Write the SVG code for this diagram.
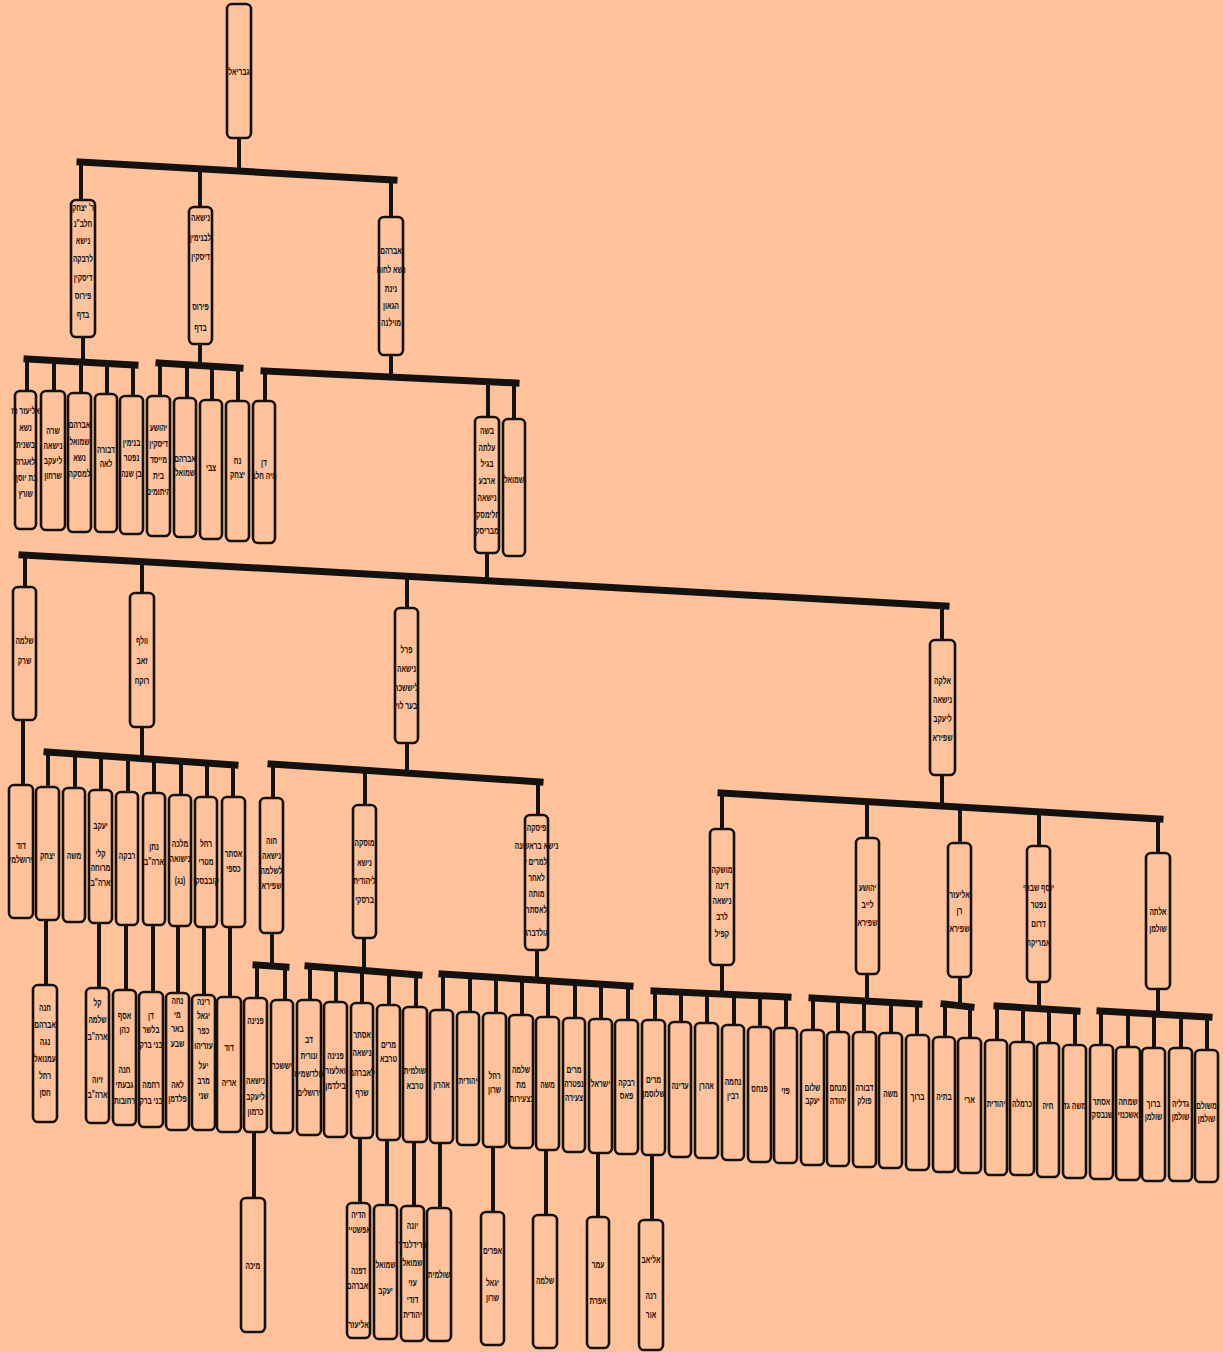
<svg xmlns="http://www.w3.org/2000/svg" width="1223" height="1352" viewBox="0 0 1223 1352">
<style>
.box{fill:#FFC29A;stroke:#141210;stroke-width:2.6}
.bar{stroke:#141210;stroke-width:7;stroke-linecap:square;fill:none}
.stem{stroke:#141210;stroke-width:4;fill:none}
text{font-family:"Liberation Sans","DejaVu Sans",sans-serif;font-size:10px;font-weight:bold;fill:#141210;text-anchor:middle}
</style>
<rect x="0" y="0" width="1223" height="1352" fill="#FFC29A"/>
<g id="connectors">
<path class="stem" d="M239 138V171M81 163V200M200 169V207M391 179V217"/>
<path class="bar" d="M80 162L394 180"/>
<path class="stem" d="M83 337V361M27 360V391M54 361V391M81 362V393M107 363V394M133 364V396"/>
<path class="bar" d="M27 359L135 365"/>
<path class="stem" d="M200 344V366M160 364V396M187 365V398M212 366V400M238 367V401"/>
<path class="bar" d="M159 363L240 368"/>
<path class="stem" d="M391 355V377M265 372V401M488 382V417M514 383V419"/>
<path class="bar" d="M264 371L516 383"/>
<path class="stem" d="M487 553V581M25 556V587M142 562V593M407 576V608M942 606V640"/>
<path class="bar" d="M22 555L946 606"/>
<path class="stem" d="M23 720V785"/>
<path class="stem" d="M142 727V758M48 753V787M75 755V788M101 757V790M128 759V792M154 760V793M181 762V795M207 764V797M233 766V797"/>
<path class="bar" d="M47 752L235 765"/>
<path class="stem" d="M407 743V773M273 765V798M365 771V805M538 782V815"/>
<path class="bar" d="M271 764L540 782"/>
<path class="stem" d="M942 775V806M722 794V829M867 802V838M960 807V843M1039 812V846M1158 819V853"/>
<path class="bar" d="M721 793L1160 819"/>
<path class="stem" d="M46 920V985M99 923V988M126 925V990M153 925V992M178 926V993M204 927V995M230 927V997"/>
<path class="stem" d="M272 933V966M257 966V998M285 966V1000"/>
<path class="bar" d="M256 965L286 967"/>
<path class="stem" d="M364 938V970M310 967V1000M336 969V1002M362 971V1003M389 973V1005M416 975V1007"/>
<path class="bar" d="M308 966L419 975"/>
<path class="stem" d="M537 950V981M443 975V1010M470 976V1012M496 978V1013M522 980V1015M548 981V1017M575 983V1018M601 985V1019M628 986V1020"/>
<path class="bar" d="M442 974L630 986"/>
<path class="stem" d="M722 965V995M655 992V1020M681 993V1022M707 994V1023M734 995V1025M760 996V1027M786 997V1028"/>
<path class="bar" d="M654 991L788 997"/>
<path class="stem" d="M867 974V1001M813 999V1030M838 1000V1032M864 1001V1032M891 1003V1033M917 1004V1035"/>
<path class="bar" d="M812 998L919 1004"/>
<path class="stem" d="M960 977V1006M945 1005V1037M970 1007V1038"/>
<path class="bar" d="M944 1004L971 1007"/>
<path class="stem" d="M1039 982V1009M997 1007V1040M1023 1008V1042M1049 1010V1043M1075 1011V1045"/>
<path class="bar" d="M997 1006L1077 1011"/>
<path class="stem" d="M1158 989V1014M1101 1012V1045M1128 1013V1047M1154 1015V1048M1181 1016V1048M1207 1017V1050"/>
<path class="bar" d="M1100 1011L1209 1017"/>
<path class="stem" d="M254 1132V1198M360 1138V1203M387 1140V1205M414 1142V1206M440 1143V1208M493 1147V1212M546 1150V1215M598 1153V1217M652 1155V1220"/>
</g>
<g id="n-root"><rect class="box" x="227" y="4" width="24" height="134" rx="5"/><text transform="translate(239 0) scale(0.66 1)"><tspan x="0" y="75">גבריאל</tspan></text></g>
<g id="n-a"><rect class="box" x="71" y="200" width="24" height="137" rx="5"/><text transform="translate(83 0) scale(0.66 1)"><tspan x="0" y="211">ר' יצחק</tspan><tspan x="0" y="227">חלב"נ</tspan><tspan x="0" y="244">נישא</tspan><tspan x="0" y="262">לרבקה</tspan><tspan x="0" y="281">דיסקין</tspan><tspan x="0" y="299">פירוס</tspan><tspan x="0" y="318">בדף</tspan></text></g>
<g id="n-b"><rect class="box" x="189" y="207" width="23" height="137" rx="5"/><text transform="translate(200.5 0) scale(0.66 1)"><tspan x="0" y="221">נישאה</tspan><tspan x="0" y="241">לבנימין</tspan><tspan x="0" y="260">דיסקין</tspan><tspan x="0" y="310">פירוס</tspan><tspan x="0" y="331">בדף</tspan></text></g>
<g id="n-c"><rect class="box" x="379" y="217" width="24" height="138" rx="5"/><text transform="translate(391 0) scale(0.66 1)"><tspan x="0" y="254">אברהם</tspan><tspan x="0" y="273">נשא לחוה</tspan><tspan x="0" y="292">נינת</tspan><tspan x="0" y="309">הגאון</tspan><tspan x="0" y="326">מוילנה</tspan></text></g>
<g id="n-a1"><rect class="box" x="15" y="391" width="21" height="138" rx="5"/><text transform="translate(25.5 0) scale(0.66 1)"><tspan x="0" y="414">אליעזר רז</tspan><tspan x="0" y="431">נשא</tspan><tspan x="0" y="448">בשנית</tspan><tspan x="0" y="465">לאגרה</tspan><tspan x="0" y="481">בת יוסף</tspan><tspan x="0" y="497">שורץ</tspan></text></g>
<g id="n-a2"><rect class="box" x="41" y="391" width="24" height="139" rx="5"/><text transform="translate(53 0) scale(0.66 1)"><tspan x="0" y="434">שרה</tspan><tspan x="0" y="449">נישאה</tspan><tspan x="0" y="464">ליעקב</tspan><tspan x="0" y="479">שרחון</tspan></text></g>
<g id="n-a3"><rect class="box" x="68" y="393" width="23" height="139" rx="5"/><text transform="translate(79.5 0) scale(0.66 1)"><tspan x="0" y="428">אברהם</tspan><tspan x="0" y="445">שמואל</tspan><tspan x="0" y="461">נשא</tspan><tspan x="0" y="477">למסקה</tspan></text></g>
<g id="n-a4"><rect class="box" x="95" y="394" width="22" height="138" rx="5"/><text transform="translate(106 0) scale(0.66 1)"><tspan x="0" y="453">דבורה</tspan><tspan x="0" y="467">לאה</tspan></text></g>
<g id="n-a5"><rect class="box" x="120" y="396" width="23" height="138" rx="5"/><text transform="translate(131.5 0) scale(0.66 1)"><tspan x="0" y="446">בנימין</tspan><tspan x="0" y="461">נפטר</tspan><tspan x="0" y="477">בן שנה</tspan></text></g>
<g id="n-b1"><rect class="box" x="147" y="396" width="23" height="140" rx="5"/><text transform="translate(158.5 0) scale(0.66 1)"><tspan x="0" y="431">יהושע</tspan><tspan x="0" y="447">דיסקין</tspan><tspan x="0" y="463">מייסד</tspan><tspan x="0" y="479">בית</tspan><tspan x="0" y="495">היתומים</tspan></text></g>
<g id="n-b2"><rect class="box" x="174" y="398" width="22" height="139" rx="5"/><text transform="translate(185 0) scale(0.66 1)"><tspan x="0" y="462">אברהם</tspan><tspan x="0" y="476">שמואל</tspan></text></g>
<g id="n-b3"><rect class="box" x="200" y="400" width="22" height="139" rx="5"/><text transform="translate(211 0) scale(0.66 1)"><tspan x="0" y="471">צבי</tspan></text></g>
<g id="n-b4"><rect class="box" x="226" y="401" width="23" height="140" rx="5"/><text transform="translate(237.5 0) scale(0.66 1)"><tspan x="0" y="464">נח</tspan><tspan x="0" y="478">יצחק</tspan></text></g>
<g id="n-c1"><rect class="box" x="253" y="401" width="22" height="142" rx="5"/><text transform="translate(264 0) scale(0.66 1)"><tspan x="0" y="466">דן</tspan><tspan x="0" y="479">חיה חלב</tspan></text></g>
<g id="n-c2"><rect class="box" x="475" y="417" width="24" height="136" rx="5"/><text transform="translate(487 0) scale(0.66 1)"><tspan x="0" y="434">בשה</tspan><tspan x="0" y="451">עלתה</tspan><tspan x="0" y="467">בגיל</tspan><tspan x="0" y="484">ארבע</tspan><tspan x="0" y="501">נישאה</tspan><tspan x="0" y="518">חלימסקי</tspan><tspan x="0" y="534">מבריסק</tspan></text></g>
<g id="n-c3"><rect class="box" x="503" y="419" width="22" height="137" rx="5"/><text transform="translate(514 0) scale(0.66 1)"><tspan x="0" y="483">שמואל</tspan></text></g>
<g id="n-s"><rect class="box" x="13" y="587" width="23" height="133" rx="5"/><text transform="translate(24.5 0) scale(0.66 1)"><tspan x="0" y="644">שלמה</tspan><tspan x="0" y="664">שרק</tspan></text></g>
<g id="n-w"><rect class="box" x="130" y="593" width="24" height="134" rx="5"/><text transform="translate(142 0) scale(0.66 1)"><tspan x="0" y="644">וולף</tspan><tspan x="0" y="664">זאב</tspan><tspan x="0" y="684">רוקח</tspan></text></g>
<g id="n-p"><rect class="box" x="395" y="608" width="23" height="135" rx="5"/><text transform="translate(406.5 0) scale(0.66 1)"><tspan x="0" y="653">פרל</tspan><tspan x="0" y="672">נישאה</tspan><tspan x="0" y="691">ליששכר</tspan><tspan x="0" y="709">בער לוי</tspan></text></g>
<g id="n-e"><rect class="box" x="930" y="640" width="25" height="135" rx="5"/><text transform="translate(942.5 0) scale(0.66 1)"><tspan x="0" y="684">אלקה</tspan><tspan x="0" y="703">נישאה</tspan><tspan x="0" y="722">ליעקב</tspan><tspan x="0" y="741">שפירא</tspan></text></g>
<g id="n-d"><rect class="box" x="9" y="785" width="24" height="133" rx="5"/><text transform="translate(21 0) scale(0.66 1)"><tspan x="0" y="849">דוד</tspan><tspan x="0" y="863">ירושלמי</tspan></text></g>
<g id="n-w1"><rect class="box" x="36" y="787" width="23" height="133" rx="5"/><text transform="translate(47.5 0) scale(0.66 1)"><tspan x="0" y="859">יצחק</tspan></text></g>
<g id="n-w2"><rect class="box" x="63" y="788" width="22" height="134" rx="5"/><text transform="translate(74 0) scale(0.66 1)"><tspan x="0" y="859">משה</tspan></text></g>
<g id="n-w3"><rect class="box" x="89" y="790" width="23" height="133" rx="5"/><text transform="translate(100.5 0) scale(0.66 1)"><tspan x="0" y="829">יעקב</tspan><tspan x="0" y="857">קלי</tspan><tspan x="0" y="871">מרוחה</tspan><tspan x="0" y="886">ארה"ב</tspan></text></g>
<g id="n-w4"><rect class="box" x="116" y="792" width="22" height="133" rx="5"/><text transform="translate(127 0) scale(0.66 1)"><tspan x="0" y="859">רבקה</tspan></text></g>
<g id="n-w5"><rect class="box" x="143" y="793" width="22" height="132" rx="5"/><text transform="translate(154 0) scale(0.66 1)"><tspan x="0" y="850">נתן</tspan><tspan x="0" y="865">ארה"ב</tspan></text></g>
<g id="n-w6"><rect class="box" x="169" y="795" width="22" height="131" rx="5"/><text transform="translate(180 0) scale(0.66 1)"><tspan x="0" y="847">מלכה</tspan><tspan x="0" y="862">נישואה</tspan><tspan x="0" y="884">(נג)</tspan></text></g>
<g id="n-w7"><rect class="box" x="195" y="797" width="22" height="130" rx="5"/><text transform="translate(206 0) scale(0.66 1)"><tspan x="0" y="847">רחל</tspan><tspan x="0" y="865">מטרי</tspan><tspan x="0" y="884">קובבסקי</tspan></text></g>
<g id="n-w8"><rect class="box" x="222" y="797" width="23" height="130" rx="5"/><text transform="translate(233.5 0) scale(0.66 1)"><tspan x="0" y="857">אסתר</tspan><tspan x="0" y="872">כספי</tspan></text></g>
<g id="n-p1"><rect class="box" x="260" y="798" width="23" height="135" rx="5"/><text transform="translate(271.5 0) scale(0.66 1)"><tspan x="0" y="844">חוה</tspan><tspan x="0" y="859">נישאה</tspan><tspan x="0" y="874">לשלמה</tspan><tspan x="0" y="889">שפירא</tspan></text></g>
<g id="n-p2"><rect class="box" x="353" y="805" width="23" height="133" rx="5"/><text transform="translate(364.5 0) scale(0.66 1)"><tspan x="0" y="846">מוסקה</tspan><tspan x="0" y="866">נישא</tspan><tspan x="0" y="884">ליהודית</tspan><tspan x="0" y="903">ברסקי</tspan></text></g>
<g id="n-p3"><rect class="box" x="525" y="815" width="23" height="135" rx="5"/><text transform="translate(536.5 0) scale(0.66 1)"><tspan x="0" y="831">פיסקה</tspan><tspan x="0" y="849">נישא בראשונה</tspan><tspan x="0" y="865">למרים ז'</tspan><tspan x="0" y="881">לאחר</tspan><tspan x="0" y="897">מותה</tspan><tspan x="0" y="913">לאסתר</tspan><tspan x="0" y="936">גולדברג</tspan></text></g>
<g id="n-e1"><rect class="box" x="710" y="829" width="24" height="136" rx="5"/><text transform="translate(722 0) scale(0.66 1)"><tspan x="0" y="873">מושקה</tspan><tspan x="0" y="889">דינה</tspan><tspan x="0" y="904">נישאה</tspan><tspan x="0" y="920">לרב</tspan><tspan x="0" y="937">קפיל</tspan></text></g>
<g id="n-e2"><rect class="box" x="856" y="838" width="23" height="136" rx="5"/><text transform="translate(867.5 0) scale(0.66 1)"><tspan x="0" y="891">יהושע</tspan><tspan x="0" y="908">לייב</tspan><tspan x="0" y="926">שפירא</tspan></text></g>
<g id="n-e3"><rect class="box" x="948" y="843" width="23" height="134" rx="5"/><text transform="translate(959.5 0) scale(0.66 1)"><tspan x="0" y="898">אליעזר</tspan><tspan x="0" y="914">רן</tspan><tspan x="0" y="932">שפירא</tspan></text></g>
<g id="n-e4"><rect class="box" x="1027" y="846" width="23" height="136" rx="5"/><text transform="translate(1038.5 0) scale(0.66 1)"><tspan x="0" y="891">יוסף שבתי</tspan><tspan x="0" y="908">נפטר</tspan><tspan x="0" y="927">דרום</tspan><tspan x="0" y="946">אמריקה</tspan></text></g>
<g id="n-e5"><rect class="box" x="1146" y="853" width="24" height="136" rx="5"/><text transform="translate(1158 0) scale(0.66 1)"><tspan x="0" y="915">אלתה</tspan><tspan x="0" y="932">שולמן</tspan></text></g>
<g id="n-g1"><rect class="box" x="33" y="985" width="24" height="137" rx="5"/><text transform="translate(45 0) scale(0.66 1)"><tspan x="0" y="1011">חנה</tspan><tspan x="0" y="1028">אברהם</tspan><tspan x="0" y="1045">נגה</tspan><tspan x="0" y="1062">עמנואל</tspan><tspan x="0" y="1079">רחל</tspan><tspan x="0" y="1096">חסן</tspan></text></g>
<g id="n-g3"><rect class="box" x="86" y="988" width="23" height="135" rx="5"/><text transform="translate(97.5 0) scale(0.66 1)"><tspan x="0" y="1006">קל</tspan><tspan x="0" y="1023">שלמה</tspan><tspan x="0" y="1040">ארה"ב</tspan><tspan x="0" y="1083">זיוה</tspan><tspan x="0" y="1098">ארה"ב</tspan></text></g>
<g id="n-g4"><rect class="box" x="113" y="990" width="23" height="135" rx="5"/><text transform="translate(124.5 0) scale(0.66 1)"><tspan x="0" y="1019">אסף</tspan><tspan x="0" y="1033">כהן</tspan><tspan x="0" y="1073">חנה</tspan><tspan x="0" y="1088">גבעתי</tspan><tspan x="0" y="1104">רחובות</tspan></text></g>
<g id="n-g5"><rect class="box" x="139" y="992" width="24" height="135" rx="5"/><text transform="translate(151 0) scale(0.66 1)"><tspan x="0" y="1019">דן</tspan><tspan x="0" y="1033">בלשר</tspan><tspan x="0" y="1048">בני ברק</tspan><tspan x="0" y="1088">רחמה</tspan><tspan x="0" y="1104">בני ברק</tspan></text></g>
<g id="n-g6"><rect class="box" x="166" y="993" width="23" height="137" rx="5"/><text transform="translate(177.5 0) scale(0.66 1)"><tspan x="0" y="1004">נחה</tspan><tspan x="0" y="1018">מי</tspan><tspan x="0" y="1032">באר</tspan><tspan x="0" y="1047">שבע</tspan><tspan x="0" y="1088">לאה</tspan><tspan x="0" y="1102">פלדמן</tspan></text></g>
<g id="n-g7"><rect class="box" x="192" y="995" width="23" height="135" rx="5"/><text transform="translate(203.5 0) scale(0.66 1)"><tspan x="0" y="1005">רינה</tspan><tspan x="0" y="1019">יגאל</tspan><tspan x="0" y="1034">כפר</tspan><tspan x="0" y="1049">עזריהו</tspan><tspan x="0" y="1069">יעל</tspan><tspan x="0" y="1084">מרב</tspan><tspan x="0" y="1099">שני</tspan></text></g>
<g id="n-g8"><rect class="box" x="217" y="997" width="24" height="135" rx="5"/><text transform="translate(229 0) scale(0.66 1)"><tspan x="0" y="1051">דוד</tspan><tspan x="0" y="1086">אריה</tspan></text></g>
<g id="n-h1"><rect class="box" x="244" y="998" width="23" height="134" rx="5"/><text transform="translate(255.5 0) scale(0.66 1)"><tspan x="0" y="1024">פנינה</tspan><tspan x="0" y="1084">נישאה</tspan><tspan x="0" y="1100">ליעקב</tspan><tspan x="0" y="1115">כרמון</tspan></text></g>
<g id="n-h2"><rect class="box" x="271" y="1000" width="22" height="133" rx="5"/><text transform="translate(282 0) scale(0.66 1)"><tspan x="0" y="1069">יששכר</tspan></text></g>
<g id="n-m1"><rect class="box" x="297" y="1000" width="24" height="135" rx="5"/><text transform="translate(309 0) scale(0.66 1)"><tspan x="0" y="1043">דב</tspan><tspan x="0" y="1059">ונורית</tspan><tspan x="0" y="1077">גולדשמיט</tspan><tspan x="0" y="1096">ירושלים</tspan></text></g>
<g id="n-m2"><rect class="box" x="324" y="1002" width="23" height="135" rx="5"/><text transform="translate(335.5 0) scale(0.66 1)"><tspan x="0" y="1059">פנינה</tspan><tspan x="0" y="1074">ואלעזר</tspan><tspan x="0" y="1089">בילדמן</tspan></text></g>
<g id="n-m3"><rect class="box" x="351" y="1003" width="22" height="135" rx="5"/><text transform="translate(362 0) scale(0.66 1)"><tspan x="0" y="1038">אסתר</tspan><tspan x="0" y="1056">נישאה</tspan><tspan x="0" y="1076">לאברהם</tspan><tspan x="0" y="1096">שרף</tspan></text></g>
<g id="n-m4"><rect class="box" x="377" y="1005" width="23" height="135" rx="5"/><text transform="translate(388.5 0) scale(0.66 1)"><tspan x="0" y="1048">מרים</tspan><tspan x="0" y="1062">טרבא</tspan></text></g>
<g id="n-m5"><rect class="box" x="403" y="1007" width="24" height="135" rx="5"/><text transform="translate(415 0) scale(0.66 1)"><tspan x="0" y="1074">שולמית</tspan><tspan x="0" y="1089">טרבא</tspan></text></g>
<g id="n-f1"><rect class="box" x="430" y="1010" width="23" height="133" rx="5"/><text transform="translate(441.5 0) scale(0.66 1)"><tspan x="0" y="1088">אהרון</tspan></text></g>
<g id="n-f2"><rect class="box" x="457" y="1012" width="22" height="133" rx="5"/><text transform="translate(468 0) scale(0.66 1)"><tspan x="0" y="1084">יהודית</tspan></text></g>
<g id="n-f3"><rect class="box" x="483" y="1013" width="23" height="134" rx="5"/><text transform="translate(494.5 0) scale(0.66 1)"><tspan x="0" y="1079">רחל</tspan><tspan x="0" y="1093">שרון</tspan></text></g>
<g id="n-f4"><rect class="box" x="509" y="1015" width="24" height="133" rx="5"/><text transform="translate(521 0) scale(0.66 1)"><tspan x="0" y="1073">שלמה</tspan><tspan x="0" y="1088">מת</tspan><tspan x="0" y="1102">בצעירותו</tspan></text></g>
<g id="n-f5"><rect class="box" x="536" y="1017" width="23" height="133" rx="5"/><text transform="translate(547.5 0) scale(0.66 1)"><tspan x="0" y="1088">משה</tspan></text></g>
<g id="n-f6"><rect class="box" x="563" y="1018" width="22" height="134" rx="5"/><text transform="translate(574 0) scale(0.66 1)"><tspan x="0" y="1073">מרים</tspan><tspan x="0" y="1087">נפטרה</tspan><tspan x="0" y="1101">צעירה</tspan></text></g>
<g id="n-f7"><rect class="box" x="589" y="1019" width="23" height="134" rx="5"/><text transform="translate(600.5 0) scale(0.66 1)"><tspan x="0" y="1087">ישראל</tspan></text></g>
<g id="n-f8"><rect class="box" x="615" y="1020" width="23" height="134" rx="5"/><text transform="translate(626.5 0) scale(0.66 1)"><tspan x="0" y="1086">רבקה</tspan><tspan x="0" y="1099">פאס</tspan></text></g>
<g id="n-q1"><rect class="box" x="642" y="1020" width="23" height="135" rx="5"/><text transform="translate(653.5 0) scale(0.66 1)"><tspan x="0" y="1083">מרים</tspan><tspan x="0" y="1097">שלוסמן</tspan></text></g>
<g id="n-q2"><rect class="box" x="669" y="1022" width="22" height="135" rx="5"/><text transform="translate(680 0) scale(0.66 1)"><tspan x="0" y="1089">עדינה</tspan></text></g>
<g id="n-q3"><rect class="box" x="695" y="1023" width="23" height="135" rx="5"/><text transform="translate(706.5 0) scale(0.66 1)"><tspan x="0" y="1089">אהרן</tspan></text></g>
<g id="n-q4"><rect class="box" x="722" y="1025" width="22" height="135" rx="5"/><text transform="translate(733 0) scale(0.66 1)"><tspan x="0" y="1085">נחמה</tspan><tspan x="0" y="1099">רבין</tspan></text></g>
<g id="n-q5"><rect class="box" x="748" y="1027" width="23" height="135" rx="5"/><text transform="translate(759.5 0) scale(0.66 1)"><tspan x="0" y="1092">פנחס</tspan></text></g>
<g id="n-q6"><rect class="box" x="774" y="1028" width="23" height="135" rx="5"/><text transform="translate(785.5 0) scale(0.66 1)"><tspan x="0" y="1094">פזי</tspan></text></g>
<g id="n-y1"><rect class="box" x="801" y="1030" width="23" height="135" rx="5"/><text transform="translate(812.5 0) scale(0.66 1)"><tspan x="0" y="1091">שלום</tspan><tspan x="0" y="1104">יעקב</tspan></text></g>
<g id="n-y2"><rect class="box" x="827" y="1032" width="22" height="134" rx="5"/><text transform="translate(838 0) scale(0.66 1)"><tspan x="0" y="1091">מנחם</tspan><tspan x="0" y="1104">יהודה</tspan></text></g>
<g id="n-y3"><rect class="box" x="853" y="1032" width="23" height="135" rx="5"/><text transform="translate(864.5 0) scale(0.66 1)"><tspan x="0" y="1091">דבורה</tspan><tspan x="0" y="1104">פולק</tspan></text></g>
<g id="n-y4"><rect class="box" x="879" y="1033" width="23" height="135" rx="5"/><text transform="translate(890.5 0) scale(0.66 1)"><tspan x="0" y="1097">משה</tspan></text></g>
<g id="n-y5"><rect class="box" x="906" y="1035" width="23" height="135" rx="5"/><text transform="translate(917.5 0) scale(0.66 1)"><tspan x="0" y="1100">ברוך</tspan></text></g>
<g id="n-z1"><rect class="box" x="933" y="1037" width="22" height="135" rx="5"/><text transform="translate(944 0) scale(0.66 1)"><tspan x="0" y="1100">בתיה</tspan></text></g>
<g id="n-z2"><rect class="box" x="958" y="1038" width="23" height="135" rx="5"/><text transform="translate(969.5 0) scale(0.66 1)"><tspan x="0" y="1103">ארי</tspan></text></g>
<g id="n-j1"><rect class="box" x="985" y="1040" width="22" height="135" rx="5"/><text transform="translate(996 0) scale(0.66 1)"><tspan x="0" y="1107">יהודית</tspan></text></g>
<g id="n-j2"><rect class="box" x="1010" y="1042" width="24" height="133" rx="5"/><text transform="translate(1022 0) scale(0.66 1)"><tspan x="0" y="1107">כרמלה</tspan></text></g>
<g id="n-j3"><rect class="box" x="1037" y="1043" width="22" height="134" rx="5"/><text transform="translate(1048 0) scale(0.66 1)"><tspan x="0" y="1109">חיה</tspan></text></g>
<g id="n-j4"><rect class="box" x="1063" y="1045" width="23" height="133" rx="5"/><text transform="translate(1074.5 0) scale(0.66 1)"><tspan x="0" y="1109">משה גד</tspan></text></g>
<g id="n-t1"><rect class="box" x="1090" y="1045" width="23" height="134" rx="5"/><text transform="translate(1101.5 0) scale(0.66 1)"><tspan x="0" y="1105">אסתר</tspan><tspan x="0" y="1118">שנבסקי</tspan></text></g>
<g id="n-t2"><rect class="box" x="1116" y="1047" width="24" height="133" rx="5"/><text transform="translate(1128 0) scale(0.66 1)"><tspan x="0" y="1105">שמחה</tspan><tspan x="0" y="1118">אשכנזי</tspan></text></g>
<g id="n-t3"><rect class="box" x="1142" y="1048" width="23" height="133" rx="5"/><text transform="translate(1153.5 0) scale(0.66 1)"><tspan x="0" y="1107">ברוך</tspan><tspan x="0" y="1120">שולמן</tspan></text></g>
<g id="n-t4"><rect class="box" x="1169" y="1048" width="23" height="133" rx="5"/><text transform="translate(1180.5 0) scale(0.66 1)"><tspan x="0" y="1107">גדליה</tspan><tspan x="0" y="1120">שולמן</tspan></text></g>
<g id="n-t5"><rect class="box" x="1195" y="1050" width="23" height="132" rx="5"/><text transform="translate(1206.5 0) scale(0.66 1)"><tspan x="0" y="1109">משולם</tspan><tspan x="0" y="1122">שולמן</tspan></text></g>
<g id="n-k1"><rect class="box" x="241" y="1198" width="24" height="134" rx="5"/><text transform="translate(253 0) scale(0.66 1)"><tspan x="0" y="1269">מיכה</tspan></text></g>
<g id="n-k2"><rect class="box" x="347" y="1203" width="23" height="135" rx="5"/><text transform="translate(358.5 0) scale(0.66 1)"><tspan x="0" y="1218">הדיה</tspan><tspan x="0" y="1233">אפשטיין</tspan><tspan x="0" y="1274">דפנה</tspan><tspan x="0" y="1289">ואברהם</tspan><tspan x="0" y="1328">אליעזר</tspan></text></g>
<g id="n-k3"><rect class="box" x="374" y="1205" width="23" height="134" rx="5"/><text transform="translate(385.5 0) scale(0.66 1)"><tspan x="0" y="1268">שמואל</tspan><tspan x="0" y="1294">יעקב</tspan></text></g>
<g id="n-k4"><rect class="box" x="401" y="1206" width="23" height="135" rx="5"/><text transform="translate(412.5 0) scale(0.66 1)"><tspan x="0" y="1229">יונה</tspan><tspan x="0" y="1248">פרידלנדר</tspan><tspan x="0" y="1266">שמואל</tspan><tspan x="0" y="1286">עזי</tspan><tspan x="0" y="1303">דודי</tspan><tspan x="0" y="1318">יהודית</tspan></text></g>
<g id="n-k5"><rect class="box" x="427" y="1208" width="24" height="133" rx="5"/><text transform="translate(439 0) scale(0.66 1)"><tspan x="0" y="1278">שולמית</tspan></text></g>
<g id="n-k6"><rect class="box" x="481" y="1212" width="23" height="133" rx="5"/><text transform="translate(492.5 0) scale(0.66 1)"><tspan x="0" y="1254">אפרים</tspan><tspan x="0" y="1286">יגאל</tspan><tspan x="0" y="1301">שרון</tspan></text></g>
<g id="n-k7"><rect class="box" x="533" y="1215" width="24" height="133" rx="5"/><text transform="translate(545 0) scale(0.66 1)"><tspan x="0" y="1284">שלמה</tspan></text></g>
<g id="n-k8"><rect class="box" x="587" y="1217" width="22" height="131" rx="5"/><text transform="translate(598 0) scale(0.66 1)"><tspan x="0" y="1268">עמר</tspan><tspan x="0" y="1304">אפרת</tspan></text></g>
<g id="n-k9"><rect class="box" x="639" y="1220" width="24" height="130" rx="5"/><text transform="translate(651 0) scale(0.66 1)"><tspan x="0" y="1263">אליאב</tspan><tspan x="0" y="1299">רנה</tspan><tspan x="0" y="1318">אור</tspan></text></g>
</svg>
